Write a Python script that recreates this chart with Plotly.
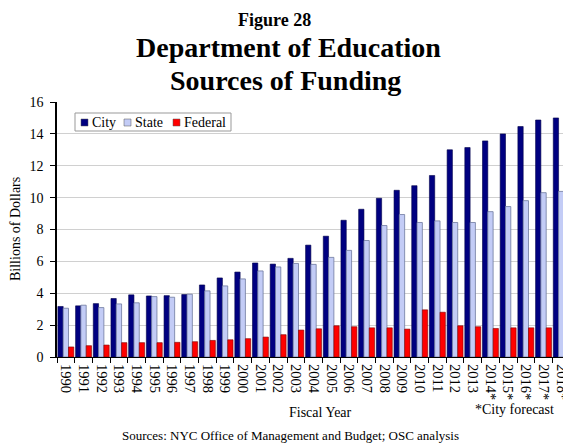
import plotly.graph_objects as go

years = ["1990", "1991", "1992", "1993", "1994", "1995", "1996", "1997", "1998", "1999",
         "2000", "2001", "2002", "2003", "2004", "2005", "2006", "2007", "2008", "2009",
         "2010", "2011", "2012", "2013", "2014*", "2015*", "2016*", "2017*", "2018*"]
city = [3.17, 3.21, 3.35, 3.67, 3.90, 3.83, 3.85, 3.92, 4.52, 4.96,
        5.33, 5.90, 5.83, 6.19, 7.02, 7.58, 8.58, 9.27, 9.96, 10.46,
        10.75, 11.39, 13.00, 13.14, 13.56, 14.00, 14.46, 14.87, 15.00]
state = [3.06, 3.25, 3.10, 3.33, 3.40, 3.79, 3.75, 3.94, 4.15, 4.46,
         4.90, 5.40, 5.65, 5.87, 5.81, 6.25, 6.69, 7.31, 8.25, 8.94,
         8.44, 8.54, 8.44, 8.44, 9.12, 9.44, 9.81, 10.31, 10.39]
federal = [0.63, 0.71, 0.75, 0.90, 0.90, 0.90, 0.92, 0.96, 1.04, 1.08,
           1.15, 1.25, 1.40, 1.69, 1.77, 1.96, 1.90, 1.83, 1.83, 1.75,
           2.96, 2.81, 1.96, 1.90, 1.79, 1.83, 1.83, 1.83, 1.83]
y_ticks = [0, 2, 4, 6, 8, 10, 12, 14, 16]

FONT = "Liberation Serif"
C_CITY, C_STATE, C_FED = "#000080", "#C3CCF6", "#FF0000"

W, H = 563, 445
L, R, T, B = 57, 0, 102, 88
pw, ph = W - L - R, H - T - B
def px(xp):
    return (xp - L) / pw
def py(yp):
    return (H - B - yp) / ph

fig = go.Figure()
fig.add_trace(go.Bar(x=years, y=city, name="City",
                     marker=dict(color=C_CITY, line=dict(color="#00004a", width=0.6))))
fig.add_trace(go.Bar(x=years, y=state, name="State",
                     marker=dict(color=C_STATE, line=dict(color="#6f7aa0", width=0.8))))
fig.add_trace(go.Bar(x=years, y=federal, name="Federal",
                     marker=dict(color=C_FED, line=dict(color="#7a0000", width=0.6))))

def ann(text, xp, yp, size, xanchor="center", textangle=0):
    return dict(text=text, x=px(xp), y=py(yp), xref="paper", yref="paper",
                xanchor=xanchor, yanchor="middle", showarrow=False, textangle=textangle,
                font=dict(family=FONT, size=size, color="black"))

annotations = [
    ann("<b>Figure 28</b>", 274, 20, 18),
    ann("<b>Department of Education</b>", 288, 47, 28),
    ann("<b>Sources of Funding</b>", 285, 80, 28),
    ann("Fiscal Year", 320, 412, 14),
    ann("*City forecast", 514, 409, 14),
    ann("Sources: NYC Office of Management and Budget; OSC analysis", 290, 435, 13),
    ann("Billions of Dollars", 15, 229, 14, textangle=-90),
]

# custom compact legend
shapes = [dict(type="rect", xref="paper", yref="paper",
               x0=px(75), x1=px(231), y0=py(131), y1=py(113),
               line=dict(color="#999999", width=1), fillcolor="white", layer="above")]
legend_items = [("City", C_CITY, 81), ("State", C_STATE, 124), ("Federal", C_FED, 173)]
for name, col, x0 in legend_items:
    shapes.append(dict(type="rect", xref="paper", yref="paper",
                       x0=px(x0), x1=px(x0 + 7), y0=py(126), y1=py(119),
                       line=dict(color="#555555", width=0.5), fillcolor=col, layer="above"))
    annotations.append(ann(name, x0 + 9, 122.5, 14, xanchor="left"))

fig.update_layout(
    width=W, height=H,
    margin=dict(l=L, r=R, t=T, b=B, autoexpand=False),
    paper_bgcolor="white", plot_bgcolor="white",
    font=dict(family=FONT, size=13, color="black"),
    barmode="group", bargap=0.1, bargroupgap=0,
    showlegend=False,
    xaxis=dict(type="category", range=[-0.5, 28.1], automargin=False,
               tickangle=90, tickson="boundaries", ticks="outside", ticklen=5,
               ticklabelstandoff=3,
               tickcolor="black", showline=True, linecolor="black", linewidth=1,
               showgrid=False, tickfont=dict(family=FONT, size=14.5)),
    yaxis=dict(range=[0, 16], tickvals=y_ticks, ticks="outside", ticklen=5, automargin=False,
               ticklabelstandoff=4,
               tickcolor="black", showline=True, linecolor="black", linewidth=1.5,
               showgrid=True, gridcolor="#d0d0d0", gridwidth=1, zeroline=False,
               tickfont=dict(family=FONT, size=14)),
    annotations=annotations,
    shapes=shapes,
)

fig.write_html("out.html",
               config={"displayModeBar": False},
               post_script="document.body.style.margin='0';document.body.style.padding='0';"
                           "document.body.style.overflow='hidden';")
